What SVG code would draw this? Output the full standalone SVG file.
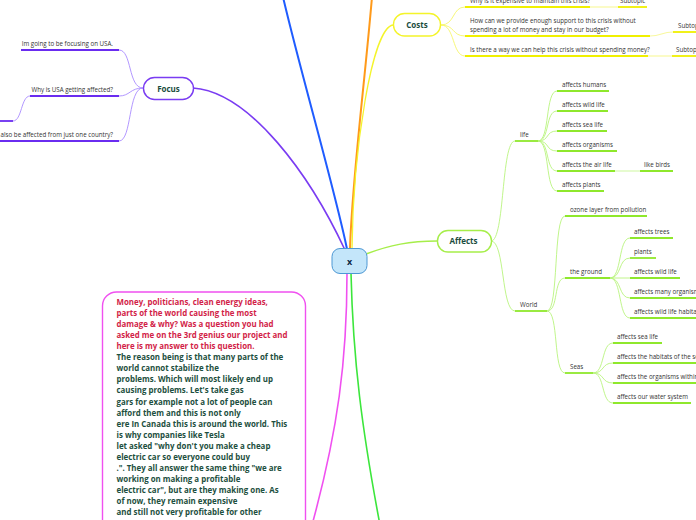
<svg xmlns="http://www.w3.org/2000/svg" width="696" height="520" viewBox="0 0 696 520">
<style>
.t{font-family:"Open Sans","Noto Sans",sans-serif;font-size:6.2px;fill:#333}
.n{font-family:"Open Sans","Noto Sans",sans-serif;font-size:8px;font-weight:bold;fill:#1b4d3e;text-anchor:middle}
.b{font-family:"Open Sans","Noto Sans",sans-serif;font-size:7.9px;font-weight:bold}
.red{fill:#d21e48}
.grn{fill:#1d4f40}
.c{fill:none}
.pm{stroke:#7a3cf2;stroke-width:1.6}
.pc{stroke:#a98bff;stroke-width:0.9}
.pu{stroke:#6a2cf0;stroke-width:1.8}
.ym{stroke:#f4f42a;stroke-width:1.3}
.yc{stroke:#f6f66a;stroke-width:0.9}
.yu{stroke:#f0f000;stroke-width:1.8}
.yl{stroke:#f8f8a0;stroke-width:1.2}
.lm{stroke:#a6ee4a;stroke-width:1.5}
.lc{stroke:#b9f47e;stroke-width:0.9}
.lu{stroke:#8fe82c;stroke-width:1.8}
.ll{stroke:#d6f8b0;stroke-width:1.2}
</style>
<g id="connectors">
<path class="c" d="M283,-3 C300,70 335,190 347,249" stroke="#1f5cff" stroke-width="2"/>
<path class="c" d="M372,-3 C364,90 352,180 350,249" stroke="#ff9a1a" stroke-width="2"/>
<path class="c pm" d="M193,88 C250,92 310,175 345,250"/>
<path class="c ym" d="M393,25 C372,28 353,150 352,249"/>
<path class="c lm" d="M366,254 C390,245 410,241 437,241"/>
<path class="c" d="M347,273 C347,360 338,430 312,525" stroke="#f050f0" stroke-width="1.6"/>
<path class="c" d="M351,273 C353,360 362,430 380,525" stroke="#3ce63c" stroke-width="1.6"/>
<path class="c pc" d="M143,88 C128,88 132,50 119,50"/>
<path class="c pc" d="M143,88 C130,88 130,96 119,96"/>
<path class="c pc" d="M143,88 C128,88 132,141 119,141"/>
<path class="c pc" d="M30,96 C21,96 22,121 13,121"/>
<path class="c yc" d="M441,25 C455,25 452,7 465,7"/>
<path class="c yc" d="M441,25 C455,25 452,36 465,36"/>
<path class="c yc" d="M441,25 C455,25 452,56 465,56"/>
<path class="c yl" d="M590,7 L618,7"/>
<path class="c yl" d="M650,36 C662,36 661,32 673,32"/>
<path class="c yl" d="M648,56 L672,56"/>
<path class="c lc" d="M491,241 C505,241 501,141 515,141"/>
<path class="c lc" d="M491,241 C505,241 501,311 515,311"/>
<path class="c lc" d="M538,141 C550,141 545,91 557,91"/>
<path class="c lc" d="M538,141 C550,141 545,111 557,111"/>
<path class="c lc" d="M538,141 C550,141 545,131 557,131"/>
<path class="c lc" d="M538,141 C550,141 545,151 557,151"/>
<path class="c lc" d="M538,141 C550,141 545,171 557,171"/>
<path class="c lc" d="M538,141 C550,141 545,191 557,191"/>
<path class="c ll" d="M615,171 L640,171"/>
<path class="c lc" d="M547,311 C559,311 553,216 565,216"/>
<path class="c lc" d="M547,311 C559,311 553,278 565,278"/>
<path class="c lc" d="M547,311 C559,311 553,373 565,373"/>
<path class="c lc" d="M610,278 C622,278 618,238 630,238"/>
<path class="c lc" d="M610,278 C622,278 618,258 630,258"/>
<path class="c lc" d="M610,278 L630,278"/>
<path class="c lc" d="M610,278 C622,278 618,298 630,298"/>
<path class="c lc" d="M610,278 C622,278 618,318 630,318"/>
<path class="c lc" d="M593,373 C605,373 601,343 613,343"/>
<path class="c lc" d="M593,373 C605,373 601,363 613,363"/>
<path class="c lc" d="M593,373 C605,373 601,383 613,383"/>
<path class="c lc" d="M593,373 C605,373 601,403 613,403"/>
</g>
<g id="central">
<rect x="332" y="248.5" width="35" height="25" rx="8" fill="#c4e6fa" stroke="#4d98d4" stroke-width="1"/>
<text x="349.5" y="264.5" class="n" style="font-size:9px;fill:#0d2845">x</text>
</g>
<g id="focus">
<rect x="143.5" y="77.5" width="50" height="22" rx="11" fill="#fff" stroke="#7a3cf2" stroke-width="1.4"/>
<text x="168.5" y="91.5" class="n">Focus</text>
</g>
<g id="focus-1"><path class="c pu" d="M21,50 L119,50"/><text x="113" y="46" class="t" text-anchor="end">Im going to be focusing on USA.</text></g>
<g id="focus-2"><path class="c pu" d="M30,96 L119,96"/><text x="113" y="91.5" class="t" text-anchor="end">Why is USA getting affected?</text></g>
<g id="focus-2-1"><path class="c pu" d="M-2,121 L13,121"/></g>
<g id="focus-3"><path class="c pu" d="M-2,141 L119,141"/><text x="113" y="137" class="t" text-anchor="end">s also be affected from just one country?</text></g>
<g id="costs">
<rect x="393.5" y="13.5" width="47" height="22.5" rx="11" fill="#fff" stroke="#f4f42a" stroke-width="1.4"/>
<text x="417" y="27.5" class="n">Costs</text>
</g>
<g id="costs-1"><path class="c yu" d="M465,7 L590,7"/><text x="470" y="3" class="t">Why is it expensive to maintain this crisis?</text></g>
<g id="costs-1-1"><path class="c yu" d="M618,7 L647,7"/><text x="620" y="3" class="t">Subtopic</text></g>
<g id="costs-2"><path class="c yu" d="M465,36 L650,36"/><text x="470" y="23" class="t">How can we provide enough support to this crisis without</text><text x="470" y="31.5" class="t">spending a lot of money and stay in our budget?</text></g>
<g id="costs-2-1"><path class="c yu" d="M673,32 L698,32"/><text x="678" y="27.5" class="t">Subtopic</text></g>
<g id="costs-3"><path class="c yu" d="M465,56 L648,56"/><text x="470" y="52" class="t">Is there a way we can help this crisis without spending money?</text></g>
<g id="costs-3-1"><path class="c yu" d="M672,56 L698,56"/><text x="676" y="52" class="t">Subtopic</text></g>
<g id="affects">
<rect x="437.5" y="230.5" width="54" height="21.5" rx="10.5" fill="#fff" stroke="#a6ee4a" stroke-width="1.4"/>
<text x="463.5" y="244" class="n">Affects</text>
</g>
<g id="life"><path class="c lu" d="M515,141 L538,141"/><text x="520" y="137" class="t">life</text></g>
<g id="life-1"><path class="c lu" d="M557,91 L609,91"/><text x="562" y="87" class="t">affects humans</text></g>
<g id="life-2"><path class="c lu" d="M557,111 L608,111"/><text x="562" y="107" class="t">affects wild life</text></g>
<g id="life-3"><path class="c lu" d="M557,131 L607,131"/><text x="562" y="127" class="t">affects sea life</text></g>
<g id="life-4"><path class="c lu" d="M557,151 L617,151"/><text x="562" y="147" class="t">affects organisms</text></g>
<g id="life-5"><path class="c lu" d="M557,171 L615,171"/><text x="562" y="167" class="t">affects the air life</text></g>
<g id="life-5-1"><path class="c lu" d="M640,171 L673,171"/><text x="644" y="167" class="t">like birds</text></g>
<g id="life-6"><path class="c lu" d="M557,191 L604,191"/><text x="562" y="187" class="t">affects plants</text></g>
<g id="world"><path class="c lu" d="M515,311 L547,311"/><text x="520" y="307" class="t">World</text></g>
<g id="world-1"><path class="c lu" d="M565,216 L647,216"/><text x="570" y="212" class="t">ozone layer from pollution</text></g>
<g id="ground"><path class="c lu" d="M565,278 L610,278"/><text x="570" y="274" class="t">the ground</text></g>
<g id="ground-1"><path class="c lu" d="M630,238 L673,238"/><text x="634" y="234" class="t">affects trees</text></g>
<g id="ground-2"><path class="c lu" d="M630,258 L656,258"/><text x="634" y="254" class="t">plants</text></g>
<g id="ground-3"><path class="c lu" d="M630,278 L680,278"/><text x="634" y="274" class="t">affects wild life</text></g>
<g id="ground-4"><path class="c lu" d="M630,298 L698,298"/><text x="634" y="294" class="t">affects many organism</text></g>
<g id="ground-5"><path class="c lu" d="M630,318 L698,318"/><text x="634" y="314" class="t">affects wild life habitat</text></g>
<g id="seas"><path class="c lu" d="M565,373 L593,373"/><text x="570" y="369" class="t">Seas</text></g>
<g id="seas-1"><path class="c lu" d="M613,343 L662,343"/><text x="617" y="339" class="t">affects sea life</text></g>
<g id="seas-2"><path class="c lu" d="M613,363 L698,363"/><text x="617" y="359" class="t">affects the habitats of the sea</text></g>
<g id="seas-3"><path class="c lu" d="M613,383 L698,383"/><text x="617" y="379" class="t">affects the organisms within</text></g>
<g id="seas-4"><path class="c lu" d="M613,403 L691,403"/><text x="617" y="399" class="t">affects our water system</text></g>
<g id="answer">
<rect x="102.5" y="292" width="203" height="300" rx="14" fill="#fff" stroke="#f050f0" stroke-width="1.4"/>
<text class="b red" x="116.5">
<tspan x="116.5" y="305">Money, politicians, clean energy ideas,</tspan>
<tspan x="116.5" y="316">parts of the world causing the most</tspan>
<tspan x="116.5" y="327.1">damage &amp; why? Was a question you had</tspan>
<tspan x="116.5" y="338.2">asked me on the 3rd genius our project and</tspan>
<tspan x="116.5" y="349.2">here is my answer to this question.</tspan>
</text>
<text class="b grn" x="116.5">
<tspan x="116.5" y="360.3">The reason being is that many parts of the</tspan>
<tspan x="116.5" y="371.3">world cannot stabilize the</tspan>
<tspan x="116.5" y="382.4">problems. Which will most likely end up</tspan>
<tspan x="116.5" y="393.4">causing problems. Let's take gas</tspan>
<tspan x="116.5" y="404.5">gars for example not a lot of people can</tspan>
<tspan x="116.5" y="415.5">afford them and this is not only</tspan>
<tspan x="116.5" y="426.6">ere In Canada this is around the world. This</tspan>
<tspan x="116.5" y="437.6">is why companies like Tesla</tspan>
<tspan x="116.5" y="448.7">let asked "why don't you make a cheap</tspan>
<tspan x="116.5" y="459.7">electric car so everyone could buy</tspan>
<tspan x="116.5" y="470.8">.". They all answer the same thing "we are</tspan>
<tspan x="116.5" y="481.8">working on making a profitable</tspan>
<tspan x="116.5" y="492.9">electric car", but are they making one. As</tspan>
<tspan x="116.5" y="503.9">of now, they remain expensive</tspan>
<tspan x="116.5" y="515">and still not very profitable for other</tspan>
</text>
</g>
</svg>
